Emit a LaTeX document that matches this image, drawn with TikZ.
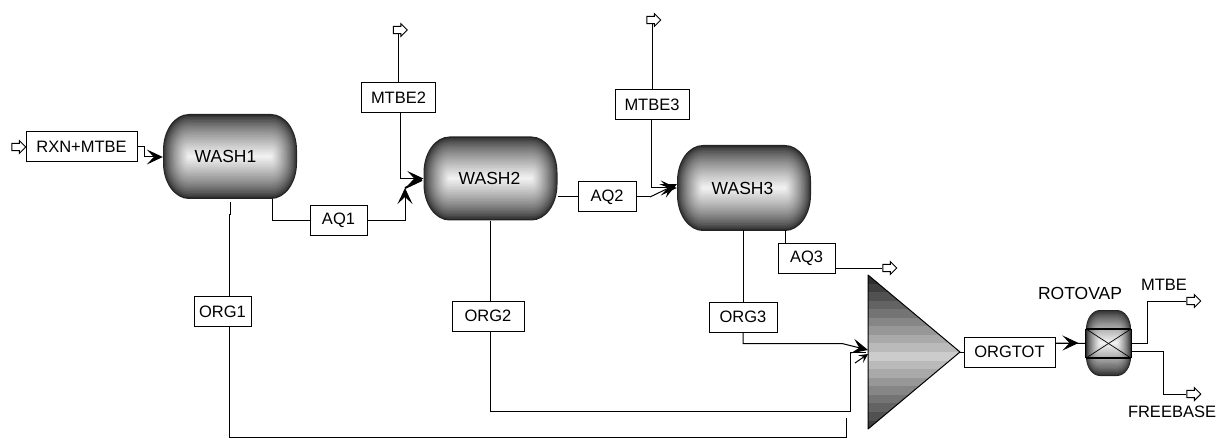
\documentclass[tikz,border=0pt]{standalone}
\usepackage{fontspec}
\setmainfont{Liberation Sans}
\usetikzlibrary{arrows.meta,shapes.arrows}

\tikzset{
    stream/.style={draw, line width=1pt, fill=white, inner sep=0pt, minimum height=30pt, font=\fontsize{16.5}{18}\selectfont},
    vessel/.style={inner sep=0pt, minimum width=134pt, minimum height=84pt, font=\fontsize{17.5}{18}\selectfont},
    port/.style={single arrow, draw, line width=1pt, fill=white, inner sep=2.5pt, minimum width=13pt, minimum height=14pt, single arrow head extend=2.5pt},
    pipe/.style={line width=1pt},
    feed/.style={pipe, -{Stealth[length=16pt,width=15pt,inset=7pt]}},
    smallfeed/.style={pipe, -{Stealth[length=9pt,width=9pt,inset=4pt]}},
    plain/.style={font=\fontsize{16.5}{18}\selectfont},
}

% centre x, centre y, width, height, end radii
\newcommand{\tankbands}[6]{
    \foreach \i in {0,...,27} {
        \pgfmathsetmacro{\f}{1-\i/28}
        \pgfmathsetmacro{\hw}{#3/2-#5*(1-\f)}
        \pgfmathsetmacro{\hh}{#4/2*\f}
        \pgfmathsetmacro{\rx}{#5*\f}
        \pgfmathsetmacro{\ry}{#6*\f}
        \pgfmathsetmacro{\shadeval}{14+80*(\i/27)^0.7}
        \fill[white!\shadeval!black]
            (#1-\hw+\rx,#2-\hh) -- (#1+\hw-\rx,#2-\hh)
            arc[start angle=90, end angle=0, x radius=\rx pt, y radius=\ry pt]
            -- (#1+\hw,#2+\hh-\ry)
            arc[start angle=0, end angle=-90, x radius=\rx pt, y radius=\ry pt]
            -- (#1-\hw+\rx,#2+\hh)
            arc[start angle=-90, end angle=-180, x radius=\rx pt, y radius=\ry pt]
            -- (#1-\hw,#2-\hh+\ry)
            arc[start angle=180, end angle=90, x radius=\rx pt, y radius=\ry pt]
            -- cycle;
    }
}

\begin{document}
\begin{tikzpicture}[x=1pt, y=-1pt]
    \useasboundingbox (0,0) rectangle (1217,438);

    % tanks
    \tankbands{230}{156.5}{134}{85}{26}{36}
    \tankbands{490.5}{178.5}{134}{84}{26}{36}
    \tankbands{744}{188}{134}{86}{26}{36}
    \node[vessel] (wash1) at (230,156.5) {\raisebox{-3pt}{\kern-9pt WASH1}};
    \node[vessel] (wash2) at (490.5,178.5) {\raisebox{-3pt}{\kern-2pt WASH2}};
    \node[vessel] (wash3) at (744,188) {\raisebox{-3pt}{\kern-3pt WASH3}};

    % mixer
    \begin{scope}
        \clip (868,275) -- (960,352) -- (868,429) -- cycle;
        \foreach \i in {0,...,18} {
            \pgfmathsetmacro{\shadeval}{18+62*(1-abs(\i-9)/9)}
            \fill[white!\shadeval!black] (868,275+\i*8.56) rectangle (960,275+\i*8.56+8.6);
        }
    \end{scope}
    \draw[pipe, line join=round] (868,275) -- (960,352) -- (868,429) -- cycle;
    \coordinate (mixin) at (868,350);
    \coordinate (mixout) at (960,352);

    % rotovap
    \tankbands{1108.5}{343}{45}{66}{14}{19}
    \node[inner sep=0pt, minimum width=45pt, minimum height=29pt] (rotovap) at (1108.5,343.5) {};
    \draw[line width=1.5pt] (rotovap.north west) -- (rotovap.north east);
    \draw[line width=1.5pt] (rotovap.south west) -- (rotovap.south east);
    \draw[line width=0.7pt] (rotovap.north west) -- (rotovap.south east);
    \draw[line width=0.7pt] (rotovap.south west) -- (rotovap.north east);
    \draw[pipe] (rotovap.north west) -- (rotovap.south west);
    \draw[pipe] (rotovap.north east) -- (rotovap.south east);

    % stream boxes
    \node[stream, minimum width=111pt] (rxn) at (81.5,147) {RXN+MTBE};
    \node[stream, minimum width=57pt] (aq1) at (338.5,220.5) {AQ1};
    \node[stream, minimum width=58pt] (aq2) at (607,197) {AQ2};
    \node[stream, minimum width=57pt] (aq3) at (806.5,258.5) {AQ3};
    \node[stream, minimum width=74pt] (mtbe2) at (398.5,98) {MTBE2};
    \node[stream, minimum width=74pt] (mtbe3) at (652,105) {MTBE3};
    \node[stream, minimum width=57pt] (org1) at (222.5,311.5) {ORG1};
    \node[stream, minimum width=72pt] (org2) at (488,316) {ORG2};
    \node[stream, minimum width=68pt] (org3) at (743,317) {ORG3};
    \node[stream, minimum width=91pt] (orgtot) at (1009.5,352) {ORGTOT};

    % open ends
    \node[port] (pin) at (17,147) {};
    \node[port, shape border rotate=-90] (pmtbe2) at (398.5,30) {};
    \node[port, shape border rotate=-90] (pmtbe3) at (652,20) {};
    \node[port] (paq3) at (888,268) {};
    \node[port] (pmtbe) at (1192,301) {};
    \node[port] (pfree) at (1192,394) {};

    \node[plain, font=\fontsize{17.5}{18}\selectfont] (lrot) at (1080,293) {ROTOVAP};
    \node[plain] (lmtbe) at (1164,285) {MTBE};
    \node[plain] (lfree) at (1172,412) {FREEBASE};

    \coordinate (aq1in) at (405,188);
    \coordinate (aq2in) at (677,184);
    \coordinate (aq2turn) at (650,197);
    \coordinate (org1end) at (846,418);
    \coordinate (org2turn) at (850,411);

    % streams
    \draw[pipe] (pin.east) -- (rxn.west);
    \draw[feed] (rxn.east) -- ++(7,0) -- ++(0,10) -- ([yshift=-0.5pt]wash1.west);

    \draw[pipe] ([xshift=42pt]wash1.south) |- (aq1.west);
    \draw[feed] (aq1.east) -| (aq1in);
    \draw[line width=2pt] (aq1in) -- (422,180);
    \draw[pipe] (pmtbe2.south) -- (mtbe2.north);
    \draw[feed] ([xshift=1.5pt]mtbe2.south) |- (wash2.west);

    \draw[pipe] ([yshift=-18.5pt]wash2.east) -- (aq2.west);
    \draw[pipe] (aq2.east) -- (aq2turn);
    \draw[feed] (aq2turn) -- (aq2in);
    \draw[pipe] (pmtbe3.south) -- (mtbe3.north);
    \draw[feed] ([xshift=-1pt]mtbe3.south) |- (wash3.west);

    \draw[pipe] ([xshift=41pt]wash3.south) -- ([xshift=-21.5pt]aq3.north);
    \draw[pipe] ([yshift=-9.5pt]aq3.east) -- (paq3.west);

    \draw[pipe] ([yshift=-3pt]wash1.south) -- ++(0,13) -- ++(-1,0) -- ([xshift=6.5pt]org1.north);
    \draw[pipe] ([xshift=6.5pt]org1.south) |- (846,437) -- (org1end);
    \draw[pipe] ([xshift=2pt]org2.north |- wash2.south) -- ([xshift=2pt]org2.north);
    \draw[pipe] ([xshift=2pt]org2.south) |- (org2turn) -- (850,352) -- (866,352);
    \draw[smallfeed] (855,363) -- (868,354);
    \draw[pipe] ([xshift=-1pt]wash3.south) -- (org3.north);
    \draw[feed] (org3.south) |- (842,343.5) -- (mixin);

    \draw[pipe] (mixout) -- (orgtot.west);
    \draw[pipe] ([yshift=9pt]orgtot.east) -- (rotovap.west);
    \draw[feed] ([yshift=9pt]orgtot.east) -- ++(23,0);
    \draw[pipe] (rotovap.east) -- ++(16,0) |- (pmtbe.west);
    \draw[pipe] ([yshift=-8pt]rotovap.east) -- ++(32,0) |- (pfree.west);
\end{tikzpicture}
\end{document}
